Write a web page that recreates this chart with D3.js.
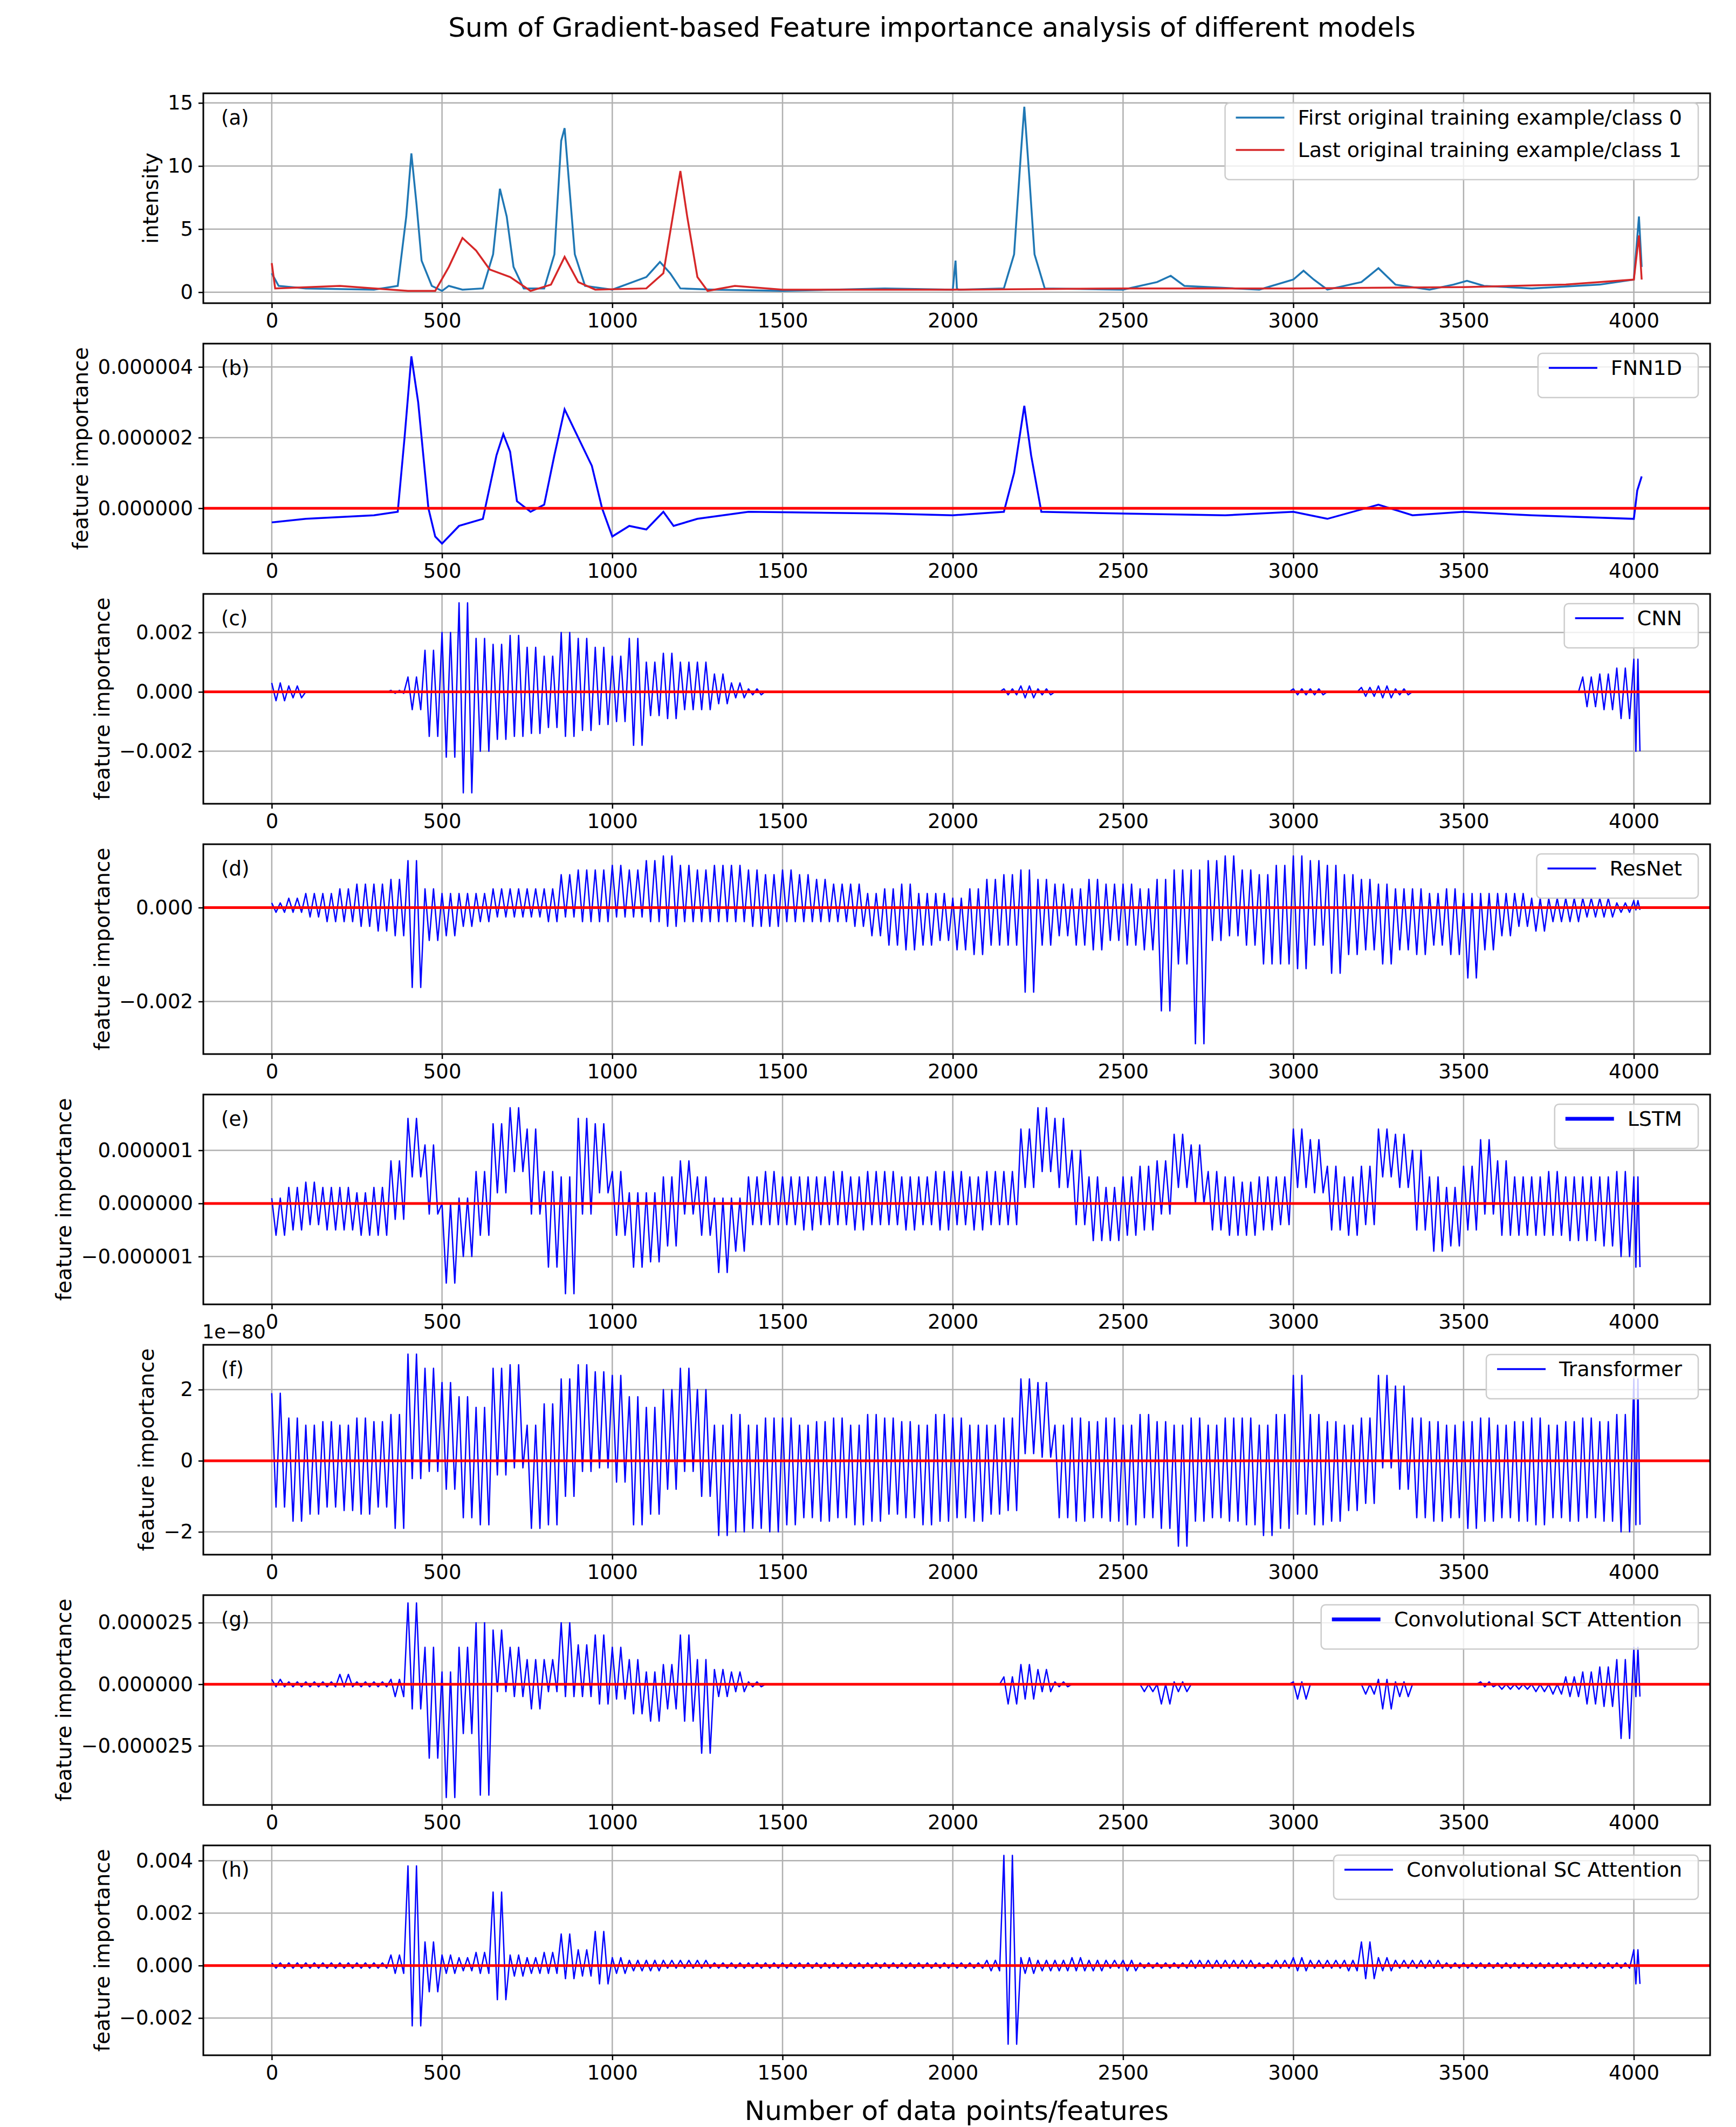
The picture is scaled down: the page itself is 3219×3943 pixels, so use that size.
<!DOCTYPE html>
<html><head><meta charset="utf-8">
<style>body{margin:0;background:#fff}svg{font-family:"DejaVu Sans",sans-serif}</style>
</head><body>
<svg width="3219" height="3943"></svg>
<script src="https://d3js.org/d3.v7.min.js"></script>
<script>
// ---- data ----
var xTicks = [0,500,1000,1500,2000,2500,3000,3500,4000];

// (a) spectra
var class0X = [0,20,100,300,370,395,410,425,440,470,500,520,560,620,650,670,690,710,740,800,830,850,860,875,890,920,1000,1100,1140,1170,1200,1300,1500,1800,2000,2008,2012,2016,2150,2180,2200,2210,2225,2240,2270,2500,2600,2640,2680,2900,3000,3030,3060,3100,3200,3250,3300,3400,3470,3510,3560,3700,3900,4000,4015,4023];
var class0Y = [1.5,0.5,0.3,0.2,0.5,6,11,7,2.5,0.5,0.1,0.5,0.2,0.3,3,8.2,6,2,0.3,0.3,3,12,13,8,3,0.5,0.2,1.2,2.4,1.5,0.3,0.2,0.1,0.3,0.2,2.5,0.3,0.2,0.3,3,11,14.7,9,3,0.3,0.2,0.8,1.3,0.5,0.2,1,1.7,1,0.2,0.8,1.9,0.6,0.2,0.6,0.9,0.5,0.3,0.6,1,6,2];
var class1X = [0,10,200,400,480,520,560,600,640,700,760,820,860,900,950,1100,1150,1190,1200,1220,1250,1280,1360,1500,2000,2500,3000,3500,3800,4000,4015,4023];
var class1Y = [2.3,0.3,0.5,0.1,0.1,2,4.3,3.3,1.8,1.2,0.1,0.6,2.8,0.8,0.2,0.3,1.5,8,9.6,6,1.2,0.1,0.5,0.2,0.2,0.3,0.3,0.4,0.6,1,4.5,1];

// (b) FNN1D, units of 1e-6
var fnnX = [0,100,300,370,390,410,430,460,480,500,550,620,660,680,700,720,760,800,830,860,900,940,970,1000,1050,1100,1150,1180,1250,1400,1800,2000,2150,2180,2210,2230,2260,2500,2800,3000,3100,3250,3350,3500,3700,4000,4010,4023];
var fnnY = [-0.4,-0.3,-0.2,-0.1,2,4.3,3,0,-0.8,-1,-0.5,-0.3,1.5,2.1,1.6,0.2,-0.1,0.1,1.5,2.8,2,1.2,0,-0.8,-0.5,-0.6,-0.1,-0.5,-0.3,-0.1,-0.15,-0.2,-0.1,1,2.9,1.5,-0.1,-0.15,-0.2,-0.1,-0.3,0.1,-0.2,-0.1,-0.2,-0.3,0.5,0.9];

// noisy panels: upper / lower envelope every 50 features (0..4000)
var cnnHi = [0.3,0.2,0,0,0,0,0,0.05,0.5,1.4,2.0,3.0,1.8,1.6,1.9,1.5,1.2,2.0,1.8,1.5,1.2,1.8,1.0,1.3,1.0,1.0,0.6,0.3,0.1,0.02,0,0,0,0,0,0,0,0,0,0,0,0,0,0.1,0.2,0.1,0,0,0,0,0,0,0,0,0,0,0,0,0,0,0.1,0.1,0,0,0.15,0.2,0.1,0,0,0,0,0,0,0,0,0,0,0.5,0.6,0.8,1.1];
var cnnLo = [-0.3,-0.2,0,0,0,0,0,-0.05,-0.6,-1.5,-2.2,-3.4,-2.0,-1.6,-1.5,-1.4,-1.2,-1.5,-1.3,-1.1,-1.0,-1.8,-0.8,-0.9,-0.6,-0.6,-0.4,-0.2,-0.1,-0.02,0,0,0,0,0,0,0,0,0,0,0,0,0,-0.1,-0.2,-0.1,0,0,0,0,0,0,0,0,0,0,0,0,0,0,-0.1,-0.1,0,0,-0.15,-0.2,-0.1,0,0,0,0,0,0,0,0,0,0,-0.5,-0.6,-0.9,-2.0];
var resHi = [0.1,0.2,0.3,0.3,0.4,0.5,0.5,0.6,1.0,0.4,0.3,0.3,0.3,0.4,0.4,0.4,0.4,0.7,0.8,0.8,0.9,0.8,1.0,1.1,0.9,0.8,0.9,0.9,0.8,0.7,0.8,0.7,0.6,0.5,0.5,0.3,0.4,0.5,0.3,0.3,0.2,0.4,0.6,0.7,0.8,0.6,0.5,0.4,0.6,0.5,0.5,0.4,0.6,0.8,0.8,1.0,1.1,0.8,0.7,0.9,1.1,1.0,0.9,0.7,0.6,0.5,0.4,0.4,0.3,0.4,0.3,0.3,0.3,0.3,0.2,0.2,0.2,0.2,0.2,0.1,0.15];
var resLo = [-0.1,-0.1,-0.2,-0.3,-0.3,-0.4,-0.5,-0.6,-1.7,-0.7,-0.6,-0.4,-0.3,-0.2,-0.2,-0.2,-0.3,-0.2,-0.3,-0.3,-0.2,-0.2,-0.3,-0.4,-0.3,-0.3,-0.3,-0.3,-0.4,-0.4,-0.3,-0.3,-0.3,-0.3,-0.4,-0.6,-0.8,-0.9,-0.8,-0.7,-0.9,-1.0,-0.8,-0.8,-1.8,-0.8,-0.6,-0.8,-0.9,-0.7,-0.8,-0.9,-2.2,-1.2,-2.9,-0.7,-0.6,-0.8,-1.2,-1.2,-1.3,-0.8,-1.4,-1.0,-0.9,-1.2,-0.9,-1.0,-0.8,-1.0,-1.5,-0.9,-0.6,-0.4,-0.5,-0.3,-0.3,-0.2,-0.2,-0.1,-0.05];
var lstmHi = [0.1,0.3,0.4,0.3,0.3,0.2,0.3,0.8,1.6,1.1,0.0,0.1,0.6,1.5,1.8,1.4,0.6,0.5,1.6,1.5,0.6,0.2,0.2,0.5,0.8,0.5,0.1,0.1,0.5,0.6,0.5,0.5,0.5,0.6,0.5,0.6,0.6,0.5,0.5,0.6,0.6,0.5,0.6,0.6,1.4,1.8,1.6,1.0,0.5,0.3,0.5,0.7,0.8,1.3,1.1,0.6,0.5,0.4,0.5,0.5,1.4,1.2,0.7,0.5,0.7,1.4,1.3,1.0,0.5,0.3,0.7,1.2,0.8,0.5,0.5,0.6,0.5,0.5,0.5,0.6,0.5];
var lstmLo = [-0.6,-0.5,-0.4,-0.5,-0.5,-0.6,-0.6,-0.3,0.5,-0.2,-1.5,-1.0,-0.6,0.2,0.6,-0.2,-1.2,-1.7,-0.2,0.2,-0.6,-1.2,-1.1,-0.8,-0.2,-0.6,-1.3,-0.9,-0.4,-0.4,-0.4,-0.5,-0.4,-0.4,-0.5,-0.4,-0.4,-0.5,-0.4,-0.5,-0.4,-0.5,-0.4,-0.4,0.3,0.6,0.3,-0.4,-0.7,-0.7,-0.6,-0.5,-0.2,0.3,0.0,-0.5,-0.6,-0.6,-0.5,-0.4,0.3,0.2,-0.5,-0.6,-0.4,0.5,0.3,-0.5,-0.9,-0.8,-0.5,-0.2,-0.6,-0.6,-0.6,-0.6,-0.7,-0.7,-0.8,-1.0,-1.2];
var trHi = [1.9,1.2,1.0,1.1,1.0,1.2,1.1,1.3,3.0,2.6,2.2,1.8,1.5,2.6,2.7,1.0,1.6,2.3,2.7,2.5,2.4,1.8,1.5,2.0,2.6,2.0,1.0,1.3,1.0,1.2,1.2,1.0,1.1,1.2,1.0,1.3,1.2,1.1,1.0,1.3,1.2,1.0,1.0,1.2,2.3,2.2,1.0,1.2,1.1,1.2,1.0,1.3,1.1,1.0,1.2,1.0,1.2,1.2,1.0,1.3,2.4,1.3,1.1,1.0,1.2,2.4,2.1,1.2,1.1,1.0,1.1,1.2,1.0,1.1,1.2,1.0,1.1,1.2,1.1,1.3,2.3];
var trLo = [-1.3,-1.7,-1.5,-1.3,-1.4,-1.5,-1.3,-1.9,-0.5,-0.3,-0.8,-1.6,-1.8,-0.4,-0.2,-1.9,-1.8,-1.0,-0.3,-0.2,-0.6,-1.8,-1.5,-0.8,-0.3,-1.0,-2.1,-2.0,-1.9,-2.0,-1.8,-1.6,-1.7,-1.6,-1.8,-1.7,-1.5,-1.6,-1.8,-1.7,-1.6,-1.7,-1.5,-1.4,0.2,0.1,-1.6,-1.7,-1.6,-1.7,-1.8,-1.6,-1.9,-2.4,-1.7,-1.6,-1.7,-1.8,-2.1,-1.9,-1.5,-1.8,-1.7,-1.4,-1.2,-0.2,-0.8,-1.6,-1.7,-1.6,-1.9,-1.7,-1.6,-1.7,-1.8,-1.6,-1.7,-1.6,-1.7,-2.0,-1.8];
var sctHi = [0.2,0.1,0.1,0.1,0.4,0.1,0.1,0.2,3.3,1.5,0.5,1.5,2.5,2.2,1.5,1.0,1.0,2.5,1.6,2.0,1.5,1.0,0.5,0.8,2.0,1.0,0.6,0.5,0.1,0,0,0,0,0,0,0,0,0,0,0,0,0,0,0.3,0.8,0.6,0.1,0,0,0,0,0,0,0.1,0,0,0,0,0,0,0.1,0,0,0,0,0.2,0.1,0,0,0,0,0.1,0,0,0,0,0.3,0.5,0.7,1.0,1.5];
var sctLo = [-0.1,-0.1,-0.1,-0.1,-0.1,-0.1,-0.1,-0.5,-1.0,-3.0,-4.6,-2.0,-4.5,-0.3,-0.5,-1.0,-0.3,-0.5,-0.5,-0.8,-0.6,-1.2,-1.5,-1.0,-1.5,-2.8,-0.5,-0.3,-0.1,0,0,0,0,0,0,0,0,0,0,0,0,0,0,-0.8,-0.6,-0.3,-0.1,0,0,0,0,-0.3,-0.8,-0.3,0,0,0,0,0,0,-0.6,0,0,0,-0.4,-1.0,-0.5,0,0,0,0,-0.1,-0.2,-0.2,-0.3,-0.4,-0.5,-0.8,-0.9,-2.2,-0.5];
var scHi = [0.1,0.1,0.1,0.1,0.1,0.1,0.1,0.4,3.8,0.9,0.4,0.3,0.5,2.8,0.4,0.3,0.5,1.2,0.6,1.3,0.3,0.2,0.2,0.2,0.2,0.2,0.1,0.1,0.1,0.1,0.1,0.1,0.1,0.1,0.1,0.1,0.1,0.1,0.1,0.1,0.1,0.1,0.2,4.2,0.3,0.2,0.2,0.3,0.2,0.2,0.2,0.1,0.1,0.1,0.2,0.2,0.2,0.2,0.1,0.2,0.3,0.2,0.2,0.2,0.9,0.3,0.2,0.2,0.2,0.1,0.1,0.1,0.1,0.1,0.1,0.1,0.1,0.1,0.1,0.1,0.6];
var scLo = [-0.1,-0.1,-0.1,-0.1,-0.1,-0.1,-0.1,-0.3,-2.3,-1.0,-0.3,-0.2,-0.3,-1.3,-0.4,-0.3,-0.3,-0.5,-0.4,-0.7,-0.3,-0.2,-0.2,-0.1,-0.1,-0.1,-0.1,-0.1,-0.1,-0.1,-0.1,-0.1,-0.1,-0.1,-0.1,-0.1,-0.1,-0.1,-0.1,-0.1,-0.1,-0.1,-0.2,-3.0,-0.3,-0.2,-0.2,-0.2,-0.2,-0.1,-0.2,-0.1,-0.1,-0.1,-0.1,-0.1,-0.1,-0.1,-0.1,-0.1,-0.2,-0.1,-0.1,-0.2,-0.5,-0.2,-0.1,-0.1,-0.1,-0.1,-0.1,-0.1,-0.1,-0.1,-0.1,-0.1,-0.1,-0.1,-0.1,-0.1,-0.7];

// ---- layout ----
var svg = d3.select("svg");
var left = 377, right = 3171, top0 = 173, step = 464, ph = 389;
var fs = 37;
var x = d3.scaleLinear().domain([-201, 4224]).range([left, right]);

svg.append("text").attr("x", 1728).attr("y", 68).attr("text-anchor", "middle")
  .attr("font-size", 50).text("Sum of Gradient-based Feature importance analysis of different models");

var panels = [
  {tag:"(a)", ylab:"intensity", dom:[-0.87,15.76], ticks:[0,5,10,15], fmt:d3.format("d"), scale:1, legend:["First original training example/class 0","Last original training example/class 1"]},
  {tag:"(b)", ylab:"feature importance", dom:[-1.28e-6,4.66e-6], ticks:[0,2e-6,4e-6], fmt:d3.format(".6f"), scale:1e-6, legend:["FNN1D"], line:[fnnX,fnnY]},
  {tag:"(c)", ylab:"feature importance", dom:[-0.00377,0.0033], ticks:[-0.002,0,0.002], fmt:d3.format(".3f"), scale:1e-3, legend:["CNN"], band:[cnnHi,cnnLo]},
  {tag:"(d)", ylab:"feature importance", dom:[-0.00312,0.00135], ticks:[-0.002,0], fmt:d3.format(".3f"), scale:1e-3, legend:["ResNet"], band:[resHi,resLo]},
  {tag:"(e)", ylab:"feature importance", dom:[-1.9e-6,2.05e-6], ticks:[-1e-6,0,1e-6], fmt:d3.format(".6f"), scale:1e-6, legend:["LSTM"], band:[lstmHi,lstmLo], thick:true},
  {tag:"(f)", ylab:"feature importance", dom:[-2.64,3.26], ticks:[-2,0,2], fmt:d3.format("d"), scale:1, legend:["Transformer"], band:[trHi,trLo], offset:"1e\u221280"},
  {tag:"(g)", ylab:"feature importance", dom:[-4.9e-5,3.62e-5], ticks:[-2.5e-5,0,2.5e-5], fmt:d3.format(".6f"), scale:1e-5, legend:["Convolutional SCT Attention"], band:[sctHi,sctLo], thick:true},
  {tag:"(h)", ylab:"feature importance", dom:[-0.00342,0.00458], ticks:[-0.002,0,0.002,0.004], fmt:d3.format(".3f"), scale:1e-3, legend:["Convolutional SC Attention"], band:[scHi,scLo]}
];

panels.forEach(function (p, i) {
  var t = top0 + i * step;
  var y = d3.scaleLinear().domain(p.dom).range([t + ph, t]);
  var g = svg.append("g");

  // grid
  g.selectAll(".vx").data(xTicks).enter().append("line")
    .attr("x1", d => x(d)).attr("x2", d => x(d)).attr("y1", t).attr("y2", t + ph)
    .attr("stroke", "#b0b0b0").attr("stroke-width", 2.5);
  g.selectAll(".hy").data(p.ticks).enter().append("line")
    .attr("x1", left).attr("x2", right).attr("y1", d => y(d)).attr("y2", d => y(d))
    .attr("stroke", "#b0b0b0").attr("stroke-width", 2.5);

  var lineGen = d3.line().x(d => x(d[0])).y(d => y(d[1]));
  var clip = "clip" + i;
  svg.append("clipPath").attr("id", clip).append("rect").attr("x", left).attr("y", t).attr("width", right - left).attr("height", ph);
  var plot = g.append("g").attr("clip-path", "url(#" + clip + ")");

  if (i === 0) {
    plot.append("path").attr("d", lineGen(class0X.map((v, k) => [v, class0Y[k]])))
      .attr("fill", "none").attr("stroke", "#1f77b4").attr("stroke-width", 3.5);
    plot.append("path").attr("d", lineGen(class1X.map((v, k) => [v, class1Y[k]])))
      .attr("fill", "none").attr("stroke", "#d62728").attr("stroke-width", 3.5);
  } else if (p.line) {
    plot.append("path").attr("d", lineGen(p.line[0].map((v, k) => [v, p.line[1][k] * p.scale])))
      .attr("fill", "none").attr("stroke", "blue").attr("stroke-width", 3.5);
  } else {
    // trace swings between the upper and lower envelope read for each 50-feature block
    var pts = [];
    var n = p.band[0].length;
    p.band[0].forEach(function (hi, k) {
      var lo = p.band[1][k], w = k < n - 1 ? 50 : 24;
      [0, 0.25, 0.5, 0.75].forEach(function (f, j) {
        pts.push([k * 50 + f * w, (j % 2 ? lo : hi) * p.scale]);
      });
    });
    plot.append("path").attr("d", lineGen(pts))
      .attr("fill", "none").attr("stroke", "blue").attr("stroke-width", 2.5).attr("stroke-linejoin", "round");
  }
  if (i > 0) {
    plot.append("line").attr("x1", left).attr("x2", right).attr("y1", y(0)).attr("y2", y(0))
      .attr("stroke", "red").attr("stroke-width", 5);
  }

  // frame
  g.append("rect").attr("x", left).attr("y", t).attr("width", right - left).attr("height", ph)
    .attr("fill", "none").attr("stroke", "black").attr("stroke-width", 3);

  // axes
  var xa = g.append("g").attr("transform", "translate(0," + (t + ph) + ")")
    .call(d3.axisBottom(x).tickValues(xTicks).tickSize(9).tickPadding(10).tickFormat(d3.format("d")));
  var ya = g.append("g").attr("transform", "translate(" + left + ",0)")
    .call(d3.axisLeft(y).tickValues(p.ticks).tickSize(9).tickPadding(10)
      .tickFormat(d => (d < 0 ? "\u2212" + p.fmt(-d) : p.fmt(d))));
  [xa, ya].forEach(function (a) {
    a.select(".domain").remove();
    a.selectAll("line").attr("stroke-width", 2.5);
    a.selectAll("text").attr("font-size", fs).attr("font-family", "DejaVu Sans").attr("fill", "black");
  });
  var maxW = 0;
  ya.selectAll("text").each(function () { maxW = Math.max(maxW, this.getComputedTextLength()); });
  svg.append("text").attr("transform", "translate(" + (left - 19 - maxW - 18) + "," + (t + ph / 2) + ") rotate(-90)")
    .attr("text-anchor", "middle").attr("font-size", fs + 2).text(p.ylab);

  if (p.offset) {
    svg.append("text").attr("x", left - 2).attr("y", t - 12).attr("font-size", fs - 2).text(p.offset);
  }
  svg.append("text").attr("x", 410).attr("y", t + 58).attr("font-size", fs).text(p.tag);

  // legend
  var lg = svg.append("g");
  var lw = 0;
  var texts = p.legend.map(function (s, k) {
    var tx = lg.append("text").attr("y", t + 58 + k * 60).attr("font-size", fs + 1).text(s);
    lw = Math.max(lw, tx.node().getComputedTextLength());
    return tx;
  });
  var boxW = lw + 165, boxX = right - 22 - boxW, boxH = 22 + p.legend.length * 60;
  lg.insert("rect", ":first-child").attr("x", boxX).attr("y", t + 18).attr("width", boxW).attr("height", boxH)
    .attr("rx", 8).attr("fill", "white").attr("fill-opacity", 0.8).attr("stroke", "#cccccc").attr("stroke-width", 2.5);
  var colors = i === 0 ? ["#1f77b4", "#d62728"] : ["blue"];
  texts.forEach(function (tx, k) {
    tx.attr("x", boxX + 135);
    lg.append("line").attr("x1", boxX + 20).attr("x2", boxX + 110)
      .attr("y1", t + 45 + k * 60).attr("y2", t + 45 + k * 60)
      .attr("stroke", colors[k]).attr("stroke-width", p.thick ? 7 : 3.5);
  });
});

svg.append("text").attr("x", 1774).attr("y", 3930).attr("text-anchor", "middle")
  .attr("font-size", 50).text("Number of data points/features");
</script>
</body></html>
